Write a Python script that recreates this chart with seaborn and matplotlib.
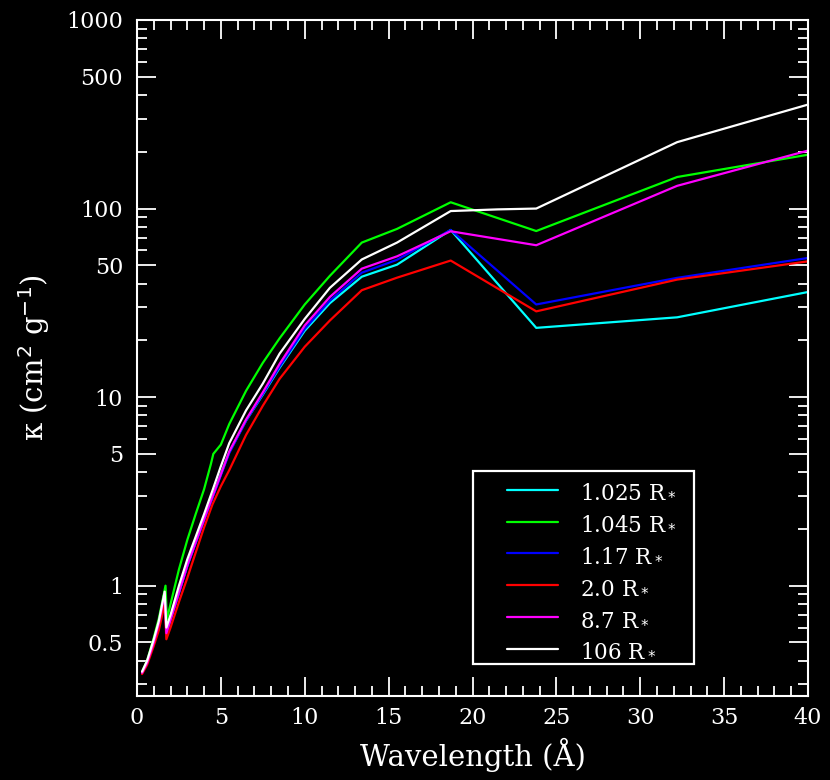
import numpy as np
import pandas as pd
import matplotlib
matplotlib.use("Agg")
import matplotlib.pyplot as plt
import seaborn as sns
from matplotlib.patches import Rectangle
from matplotlib.ticker import FixedLocator, LogLocator, MultipleLocator, NullFormatter

# ---------------- data ----------------
labels = ["1.025 R$_*$", "1.045 R$_*$", "1.17 R$_*$", "2.0 R$_*$", "8.7 R$_*$", "106 R$_*$"]
colors = ["#00ffff", "#00ff00", "#0000ff", "#ff0000", "#ff00ff", "#ffffff"]

wl_common = [0.3, 0.6, 1.0, 1.3, 1.65, 1.75, 2.0, 2.5, 3.0, 3.5, 4.0, 4.5, 5.0, 5.5,
             6.5, 7.5, 8.5, 10.0, 11.5, 13.4, 15.5, 18.7, 23.8, 32.2, 40.0]

kappa_1025 = [0.345, 0.39, 0.50, 0.63, 0.93, 0.57, 0.67, 0.92, 1.28, 1.70, 2.25, 2.95, 3.9, 5.1,
              7.5, 10.3, 14.3, 22.5, 31.5, 43.5, 50.4, 77.0, 23.3, 26.5, 36.1]

wl_1045 = [0.3, 0.6, 1.0, 1.3, 1.7, 1.78, 2.0, 2.5, 3.0, 3.5, 4.0, 4.4, 4.55, 5.0, 5.5,
           6.5, 7.5, 8.5, 10.0, 11.5, 13.4, 15.5, 18.7, 23.8, 32.2, 40.0]
kappa_1045 = [0.35, 0.40, 0.53, 0.67, 1.0, 0.66, 0.80, 1.22, 1.75, 2.40, 3.25, 4.4, 5.0, 5.6, 7.2,
              10.8, 15.2, 20.5, 31.0, 44.0, 66.0, 78.0, 108.0, 76.0, 147.0, 193.0]

kappa_117 = [0.345, 0.39, 0.50, 0.63, 0.90, 0.56, 0.66, 0.91, 1.27, 1.68, 2.22, 2.92, 3.85, 5.05,
             7.5, 10.4, 14.5, 23.0, 32.5, 45.7, 53.5, 77.0, 31.0, 42.9, 54.7]

kappa_20 = [0.34, 0.38, 0.48, 0.58, 0.80, 0.52, 0.60, 0.82, 1.10, 1.50, 2.04, 2.70, 3.37, 4.1,
            6.3, 9.0, 12.5, 18.5, 25.5, 36.9, 43.0, 53.0, 28.5, 42.0, 52.5]

kappa_87 = [0.345, 0.39, 0.50, 0.63, 0.91, 0.56, 0.66, 0.92, 1.28, 1.70, 2.25, 2.97, 3.9, 5.15,
            7.6, 10.6, 15.0, 24.0, 34.0, 48.0, 55.8, 75.8, 63.9, 132.0, 203.0]

wl_106 = [0.3, 0.6, 1.0, 1.3, 1.65, 1.75, 2.0, 2.5, 3.0, 3.5, 4.0, 4.5, 5.0, 5.5,
          6.5, 7.5, 8.5, 10.0, 11.5, 13.4, 15.5, 18.7, 21.5, 23.8, 32.2, 40.0]
kappa_106 = [0.35, 0.40, 0.52, 0.65, 0.93, 0.60, 0.70, 1.0, 1.38, 1.82, 2.4, 3.2, 4.3, 5.7,
             8.5, 11.8, 17.0, 26.0, 38.0, 53.7, 66.0, 97.0, 99.0, 100.0, 225.0, 356.0]

series_x = [wl_common, wl_1045, wl_common, wl_common, wl_common, wl_106]
series_y = [kappa_1025, kappa_1045, kappa_117, kappa_20, kappa_87, kappa_106]

ytick_vals = [0.5, 1, 5, 10, 50, 100, 500, 1000]
ytick_labels = ["0.5", "1", "5", "10", "50", "100", "500", "1000"]
xtick_vals = [0, 5, 10, 15, 20, 25, 30, 35, 40]

# ---------------- build long-form table ----------------
rows = []
for lab, xs, ys in zip(labels, series_x, series_y):
    for xv, yv in zip(xs, ys):
        rows.append({"wl": xv, "kappa": yv, "model": lab})
df = pd.DataFrame(rows)

# ---------------- style ----------------
sns.set_theme(style="ticks")
plt.rcParams.update({
    "figure.facecolor": "black",
    "axes.facecolor": "black",
    "axes.edgecolor": "white",
    "axes.labelcolor": "white",
    "xtick.color": "white",
    "ytick.color": "white",
    "text.color": "white",
    "axes.linewidth": 1.5,
})
plt.rcParams["font.family"] = ["DejaVu Serif", "DejaVu Sans"]

fig = plt.figure(figsize=(8.3, 7.8), dpi=100)
ax = fig.add_axes([137/830, 1-696/780, (808-137)/830, (696-20)/780])

sns.lineplot(data=df, x="wl", y="kappa", hue="model", hue_order=labels,
             palette=dict(zip(labels, colors)), estimator=None, sort=False,
             linewidth=1.6, ax=ax)

ax.set_yscale("log")
ax.set_xlim(0, 40)
ax.set_ylim(0.26, 1000)

ax.xaxis.set_major_locator(FixedLocator(xtick_vals))
ax.xaxis.set_minor_locator(MultipleLocator(1))
ax.yaxis.set_major_locator(FixedLocator(ytick_vals))
ax.set_yticklabels(ytick_labels)
ax.yaxis.set_minor_locator(LogLocator(base=10, subs=np.arange(2, 10), numticks=20))
ax.yaxis.set_minor_formatter(NullFormatter())

ax.tick_params(which="both", direction="in", top=True, right=True, width=1.3, colors="white")
ax.tick_params(which="major", length=14, labelsize=16)
ax.tick_params(which="minor", length=7)
ax.tick_params(axis="x", which="major", pad=8)
ax.tick_params(axis="y", which="major", pad=10)
for s in ax.spines.values():
    s.set_color("white")

ax.set_xlabel("Wavelength (Å)", fontsize=21, labelpad=6)
ax.set_ylabel("κ (cm$^2$ g$^{-1}$)", fontsize=21, labelpad=10)

# legend: frame drawn as a rectangle, entries placed inside
ax.add_patch(Rectangle((0.5007, 0.0473), 0.3294, 0.2855, transform=ax.transAxes,
                       facecolor="black", edgecolor="white", linewidth=1.6, zorder=5))
leg = ax.legend(loc="upper left", bbox_to_anchor=(0.5514, 0.319), borderaxespad=0,
                fontsize=15.5, frameon=False, handlelength=2.35,
                handletextpad=1.05, labelspacing=0.455, borderpad=0)
leg.set_zorder(6)
for t in leg.get_texts():
    t.set_color("white")

fig.savefig("out.png", dpi=100, facecolor="black")
